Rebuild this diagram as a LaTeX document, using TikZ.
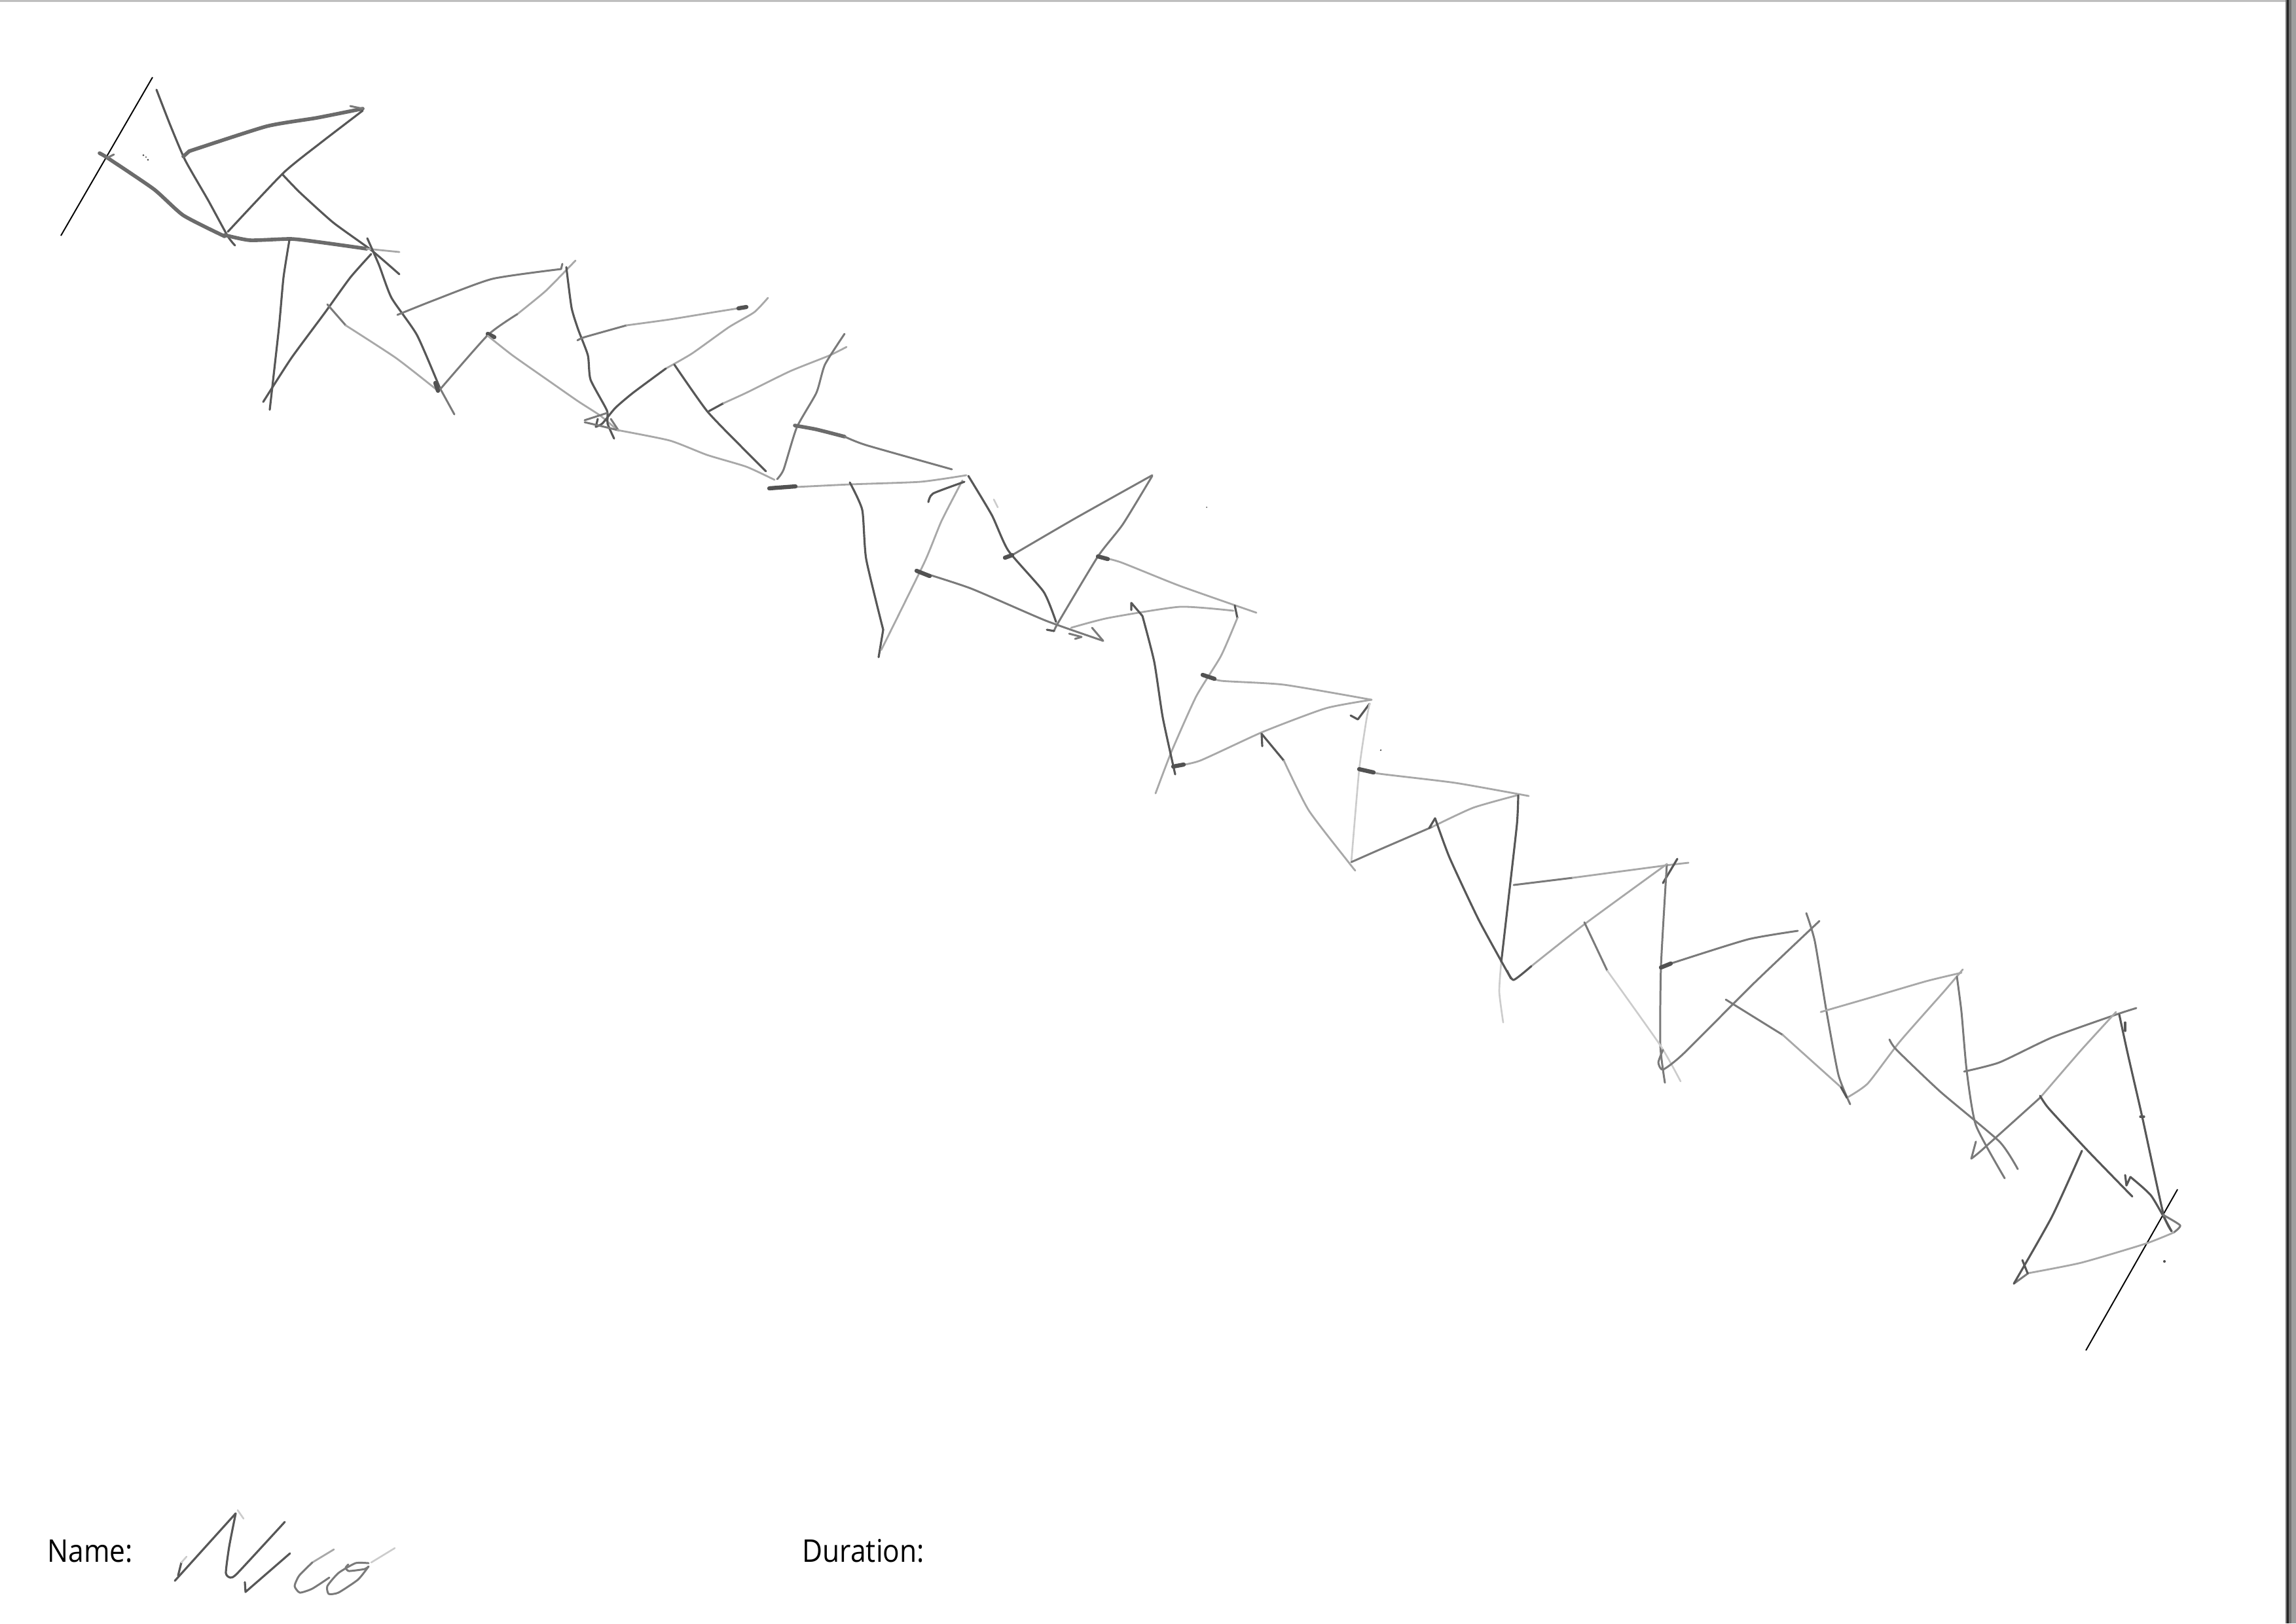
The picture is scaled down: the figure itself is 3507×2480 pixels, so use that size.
\documentclass[tikz,border=0pt]{standalone}
\usepackage{fontspec}
\setmainfont{Open Sans}
\tikzset{
  pheavy/.style={draw=black!58,line width=1.6pt,line cap=round,line join=round},
  pdark/.style={draw=black!66,line width=0.9pt,line cap=round,line join=round},
  pmid/.style={draw=black!52,line width=0.85pt,line cap=round,line join=round},
  plight/.style={draw=black!34,line width=0.8pt,line cap=round,line join=round},
  pfaint/.style={draw=black!20,line width=0.75pt,line cap=round,line join=round},
  pblob/.style={draw=black!68,line width=1.8pt,line cap=round,line join=round},
  ground/.style={draw=black,line width=0.55pt},
  lbl/.style={font=\fontsize{13.6}{16}\selectfont,text=black,inner sep=0pt,anchor=base west,xscale=.89,transform shape},
  speck/.style={fill=black!70,draw=none}
}
\newcommand{\penline}[2]{\draw[#1] plot[smooth,tension=.35] coordinates {#2};}
\begin{document}
\begin{tikzpicture}[x=0.01cm,y=-0.01cm]
\useasboundingbox (0,0) rectangle (3507,2480);
\fill[white] (0,0) rectangle (3507,2480);
% scan edges
\fill[black!25] (0,0) rectangle (3493,3);
\fill[black!55] (3491,0) rectangle (3500,2480);
\fill[black!85] (3493,0) rectangle (3496,2480);
\fill[black!38] (3500,0) rectangle (3507,2480);
% ground lines
\draw[ground] (233,118) -- (93,360);
\draw[ground] (3326,1817) -- (3186,2063);
% figure 1
\penline{pdark}{(239,137)(260,191)(283,245)(318,306)(348,361)(359,375)}
\penline{pheavy}{(152,234)(164,241)(235,289)(280,329)(343,361)}
\penline{pmid}{(164,241)(174,236)}
\penline{pheavy}{(289,231)(407,193)(484,180)(554,166)}
\draw[pheavy] (280,239) -- (289,231);
\draw[pmid] (535,162) -- (554,166);
\penline{pdark}{(554,169)(490,218)(433,264)(348,354)}
\penline{pdark}{(431,266)(458,294)(509,340)(567,382)(610,419)}
\penline{pheavy}{(343,359)(382,367)(445,365)(496,371)(560,380)}
\penline{plight}{(560,380)(610,385)}
\penline{pdark}{(442,367)(433,424)(426,501)(412,626)}
\penline{pdark}{(567,388)(535,424)(496,478)(445,547)(402,614)}
% figure 2
\penline{pdark}{(561,364)(579,405)(598,455)(637,512)(672,593)}
\penline{pmid}{(672,593)(694,633)}
\penline{pmid}{(607,481)(662,459)(752,426)(857,411)}
\draw[pmid] (859,403) -- (857,411);
\penline{plight}{(879,398)(834,444)(790,480)}
\penline{pmid}{(790,480)(745,512)(672,595)}
\penline{pmid}{(500,465)(528,497)}
\penline{plight}{(528,497)(605,547)(669,597)}
\draw[pblob] (665,585) -- (669,597);
\draw[pblob] (745,510) -- (755,515);
\penline{plight}{(745,513)(783,543)(840,583)(883,613)(917,635)(943,657)}
% figure 3
\penline{pdark}{(865,408)(873,470)(883,503)(898,543)(902,580)(927,627)(928,647)(938,670)}
\penline{pmid}{(882,520)(893,515)(957,497)}
\penline{plight}{(957,497)(1023,488)(1090,477)(1140,469)}
\draw[pblob] (1128,471) -- (1140,469);
\penline{plight}{(1173,455)(1152,477)(1113,500)(1057,540)(1017,563)}
\penline{pdark}{(1017,563)(967,600)(940,623)(920,647)(910,652)}
\draw[pdark] (910,652) -- (913,640);
\penline{pmid}{(927,631)(893,642)}
\penline{pmid}{(893,645)(927,653)(943,657)}
\draw[pmid] (933,640) -- (945,658);
\penline{plight}{(943,657)(1023,673)(1080,695)(1140,713)(1183,733)}
\penline{pdark}{(1030,557)(1080,628)(1133,683)(1170,720)}
\draw[pdark] (1083,628) -- (1105,616);
\penline{plight}{(1105,616)(1140,600)(1207,567)(1267,543)(1293,530)}
\penline{pmid}{(1290,510)(1260,557)(1247,600)(1217,653)(1197,717)(1187,732)}
% figure 4
\penline{pheavy}{(1214,650)(1247,656)(1290,667)}
\penline{pmid}{(1290,667)(1323,680)(1454,717)}
\penline{plight}{(1175,746)(1298,740)(1406,736)(1476,726)}
\draw[pblob] (1175,746) -- (1215,743);
\penline{pdark}{(1298,737)(1317,779)(1323,854)(1349,962)}
\draw[pdark] (1349,962) -- (1342,1004);
\penline{plight}{(1470,734)(1438,796)(1412,859)(1346,993)}
\penline{pdark}{(1473,736)(1425,754)(1418,767)}
\penline{pdark}{(1479,727)(1515,787)(1540,841)(1594,904)(1613,950)}
\draw[pfaint] (1518,763) -- (1524,775);
\penline{pmid}{(1546,848)(1642,792)(1760,726)}
\draw[pblob] (1535,852) -- (1546,848);
\penline{pmid}{(1760,727)(1715,801)(1677,850)(1617,950)(1610,964)}
\draw[pdark] (1610,964) -- (1599,962);
\penline{plight}{(1677,850)(1712,859)(1802,895)(1919,936)}
\draw[pblob] (1677,850) -- (1692,854);
\penline{pmid}{(1400,872)(1483,899)(1597,948)(1685,979)}
\draw[pblob] (1400,872) -- (1420,880);
\draw[pmid] (1668,959) -- (1685,979);
\draw[pmid] (1633,968) -- (1652,973) -- (1642,976);
\penline{plight}{(1636,959)(1693,944)(1802,927)(1884,933)}
% figure 5
\draw[pdark] (1886,925) -- (1890,944);
\penline{plight}{(1890,944)(1865,1002)(1827,1064)(1789,1149)(1765,1212)}
\draw[pdark] (1728,932) -- (1728,921) -- (1745,941);
\penline{pdark}{(1745,941)(1763,1011)(1776,1096)(1795,1183)}
\penline{plight}{(1837,1031)(1865,1040)(1961,1046)(2095,1069)}
\draw[pblob] (1837,1031) -- (1855,1037);
\penline{plight}{(1792,1171)(1833,1162)(1929,1118)(2025,1082)(2095,1069)}
\draw[pblob] (1792,1171) -- (1808,1168);
\draw[pdark] (2063,1093) -- (2074,1099) -- (2092,1075);
\penline{pfaint}{(2092,1075)(2087,1100)(2076,1176)(2064,1317)}
\draw[pdark] (1928,1140) -- (1927,1121) -- (1961,1162);
\penline{plight}{(1961,1162)(1999,1238)(2062,1320)(2070,1330)}
% figure 6
\penline{plight}{(2076,1175)(2107,1182)(2223,1196)(2335,1216)}
\draw[pblob] (2076,1175) -- (2098,1180);
\penline{pmid}{(2064,1317)(2107,1298)(2188,1263)}
\penline{plight}{(2188,1263)(2250,1234)(2317,1215)}
\penline{pdark}{(2319,1215)(2317,1259)(2304,1374)(2293,1470)}
\penline{pfaint}{(2293,1470)(2290,1515)(2296,1562)}
\draw[pdark] (2183,1265) -- (2192,1250);
\penline{pdark}{(2192,1250)(2214,1310)(2259,1406)(2308,1495)}
\penline{pmid}{(2312,1352)(2402,1341)}
\penline{plight}{(2402,1341)(2545,1322)(2579,1318)}
\draw[pdark] (2562,1312) -- (2540,1349);
\penline{pmid}{(2546,1320)(2537,1476)(2536,1597)(2543,1654)}
\penline{plight}{(2546,1320)(2420,1412)(2339,1476)}
\penline{pdark}{(2339,1476)(2312,1497)(2302,1483)}
% figure 7
\penline{pmid}{(2420,1409)(2455,1483)}
\penline{pfaint}{(2455,1483)(2536,1597)(2567,1652)}
\penline{pmid}{(2537,1478)(2558,1470)(2670,1435)(2746,1422)}
\draw[pblob] (2537,1478) -- (2552,1472);
\penline{pmid}{(2779,1407)(2679,1502)(2571,1610)(2540,1634)(2533,1623)(2540,1604)}
\penline{pmid}{(2759,1395)(2772,1438)(2790,1546)(2808,1642)(2826,1687)}
\penline{pmid}{(2636,1527)(2723,1581)}
\penline{plight}{(2723,1581)(2812,1661)}
\penline{plight}{(2781,1546)(2857,1524)(2942,1499)(2996,1486)}
\penline{plight}{(2998,1481)(2969,1515)(2902,1591)(2853,1655)(2821,1677)}
\draw[pdark] (2821,1677) -- (2812,1661);
% figure 8
\penline{pmid}{(2989,1492)(2996,1546)(3004,1636)(3018,1719)(3062,1800)}
\penline{pmid}{(2886,1588)(2897,1604)(2964,1668)(3054,1744)(3082,1786)}
\penline{pmid}{(3000,1637)(3054,1623)(3134,1585)(3232,1550)(3263,1540)}
\penline{plight}{(3232,1546)(3179,1604)(3116,1677)}
\penline{pmid}{(3116,1677)(3027,1757)(3011,1770)}
\draw[pmid] (3011,1770) -- (3018,1744);
\penline{pdark}{(3237,1550)(3250,1610)(3272,1706)(3304,1853)(3317,1881)}
\draw[pdark] (3246,1562) -- (3246,1575);
\draw[pdark] (3269,1706) -- (3275,1706);
\penline{pdark}{(3116,1674)(3129,1693)(3188,1757)(3257,1828)}
\draw[pdark] (3246,1795) -- (3248,1811) -- (3254,1798);
\penline{pdark}{(3254,1798)(3286,1827)(3317,1881)}
\penline{pmid}{(3304,1856)(3330,1872)(3320,1883)}
\penline{plight}{(3320,1883)(3277,1900)(3179,1929)(3098,1945)}
\draw[pmid] (3098,1945) -- (3076,1961);
\penline{pdark}{(3180,1758)(3134,1859)(3076,1961)}
\draw[pdark] (3089,1925) -- (3097,1945);
% specks
\fill[speck] (219,237) circle (1.5) (226,244) circle (1.5) (223,240) circle (1.2);
\fill[speck] (3306,1927) circle (2);
\fill[speck] (2109,1146) circle (1.3);
\fill[speck] (1843,775) circle (1);
% footer
\node[lbl] (nameLabel) at (72,2386) {Name:};
\node[lbl] (durationLabel) at (1225,2386) {Duration:};
% signature
\draw[pdark] (267,2415) -- (360,2312);
\draw[pdark] (277,2387) -- (272,2407);
\draw[pfaint] (277,2387) -- (285,2378);
\penline{pdark}{(360,2312)(350,2363)(345,2403)(352,2410)(363,2403)(435,2325)}
\draw[pfaint] (363,2307) -- (372,2320);
\draw[pdark] (443,2373) -- (375,2432) -- (374,2417);
\draw[plight] (510,2367) -- (477,2387);
\penline{pmid}{(477,2387)(457,2407)(450,2423)(458,2433)(477,2427)(503,2410)}
\penline{pmid}{(563,2388)(543,2388)(517,2403)(500,2423)(502,2435)(517,2433)(547,2413)(563,2393)}
\penline{pmid}{(563,2393)(557,2397)(533,2400)(528,2395)(532,2390)}
\draw[pfaint] (567,2387) -- (603,2365);
\end{tikzpicture}
\end{document}
